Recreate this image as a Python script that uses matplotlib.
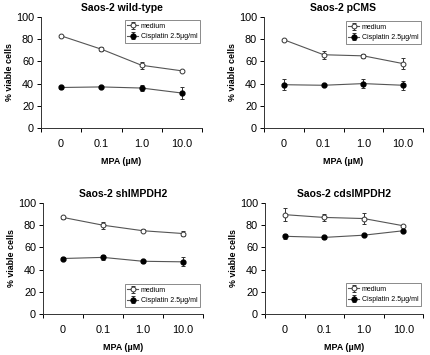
import matplotlib
matplotlib.use("Agg")
import matplotlib.pyplot as plt

plt.rcParams['font.family'] = ['Liberation Sans', 'DejaVu Sans']

# data
doses = ['0', '0.1', '1.0', '10.0']
titles = ['Saos-2 wild-type', 'Saos-2 pCMS', 'Saos-2 shIMPDH2', 'Saos-2 cdsIMPDH2']

medium = [
    [83, 71, 56.5, 51.5],
    [79.5, 66, 65, 58],
    [87, 80, 75, 72.5],
    [89.5, 87, 86, 79.5],
]
medium_err = [
    [0.8, 2, 3, 1],
    [1, 3.5, 2, 5],
    [1, 3, 1.5, 2],
    [6, 3, 5, 1],
]
cis = [
    [36.5, 37, 36, 31.5],
    [39, 38.5, 40, 38.5],
    [50, 51, 47.5, 47],
    [70, 69, 71, 75],
]
cis_err = [
    [1, 1, 3, 5],
    [5, 1, 4, 4],
    [1, 2, 1.5, 4],
    [2, 1, 1, 1],
]

# axes boxes in pixels: left, top, right, bottom
boxes = [(41, 17, 202, 128), (264, 17, 423, 128), (43, 203, 203, 314), (265, 203, 423, 314)]
# legend anchor (axes fraction) and corner
leg_pos = [((0.988, 0.973), 'upper right'), ((0.987, 0.964), 'upper right'),
           ((0.981, 0.063), 'lower right'), ((0.987, 0.072), 'lower right')]

W, H = 430, 355
fig = plt.figure(figsize=(W / 100, H / 100), dpi=100)

x = list(range(len(doses)))
for i in range(4):
    l, t, r, b = boxes[i]
    ax = fig.add_axes([l / W, (H - b) / H, (r - l) / W, (b - t) / H])
    ax.errorbar(x, medium[i], yerr=medium_err[i], color='#555555', lw=0.8,
                marker='o', ms=3.5, mfc='white', mec='#333333', mew=0.7,
                ecolor='#333333', elinewidth=0.7, capsize=1.5, capthick=0.7,
                label='medium')
    ax.errorbar(x, cis[i], yerr=cis_err[i], color='#555555', lw=0.8,
                marker='o', ms=3.5, mfc='black', mec='black',
                ecolor='#333333', elinewidth=0.7, capsize=1.5, capthick=0.7,
                label='Cisplatin 2.5\u00b5g/ml')
    ax.set_xlim(-0.5, 3.5)
    ax.set_ylim(0, 100)
    ax.set_yticks(range(0, 101, 20))
    ax.set_xticks([-0.5, 0.5, 1.5, 2.5, 3.5])
    ax.set_xticklabels([])
    ax.set_xticks(x, minor=True)
    ax.set_xticklabels(doses, minor=True)
    ax.tick_params(axis='x', which='minor', length=0, pad=8, labelsize=7.8)
    ax.tick_params(axis='x', which='major', length=3, width=0.7, direction='out')
    ax.tick_params(axis='y', length=3, width=0.7, direction='out', labelsize=7.8, pad=2)
    for s in ['top', 'right']:
        ax.spines[s].set_visible(False)
    for s in ['left', 'bottom']:
        ax.spines[s].set_linewidth(0.7)
        ax.spines[s].set_color('#333333')
    ax.set_title(titles[i], fontsize=7.5, fontweight='bold', pad=4)
    ax.set_xlabel('MPA (\u00b5M)', fontsize=6.4, fontweight='bold', labelpad=6)
    ax.set_ylabel('% viable cells', fontsize=6.4, fontweight='bold', labelpad=1.5)
    anchor, loc = leg_pos[i]
    leg = ax.legend(loc=loc, bbox_to_anchor=anchor, fontsize=5, handlelength=1.5,
                    handletextpad=0.4, borderpad=0.4, labelspacing=0.5, fancybox=False,
                    framealpha=1, edgecolor='#777777', borderaxespad=0)
    leg.get_frame().set_linewidth(0.6)

fig.savefig('out.png', dpi=100)
